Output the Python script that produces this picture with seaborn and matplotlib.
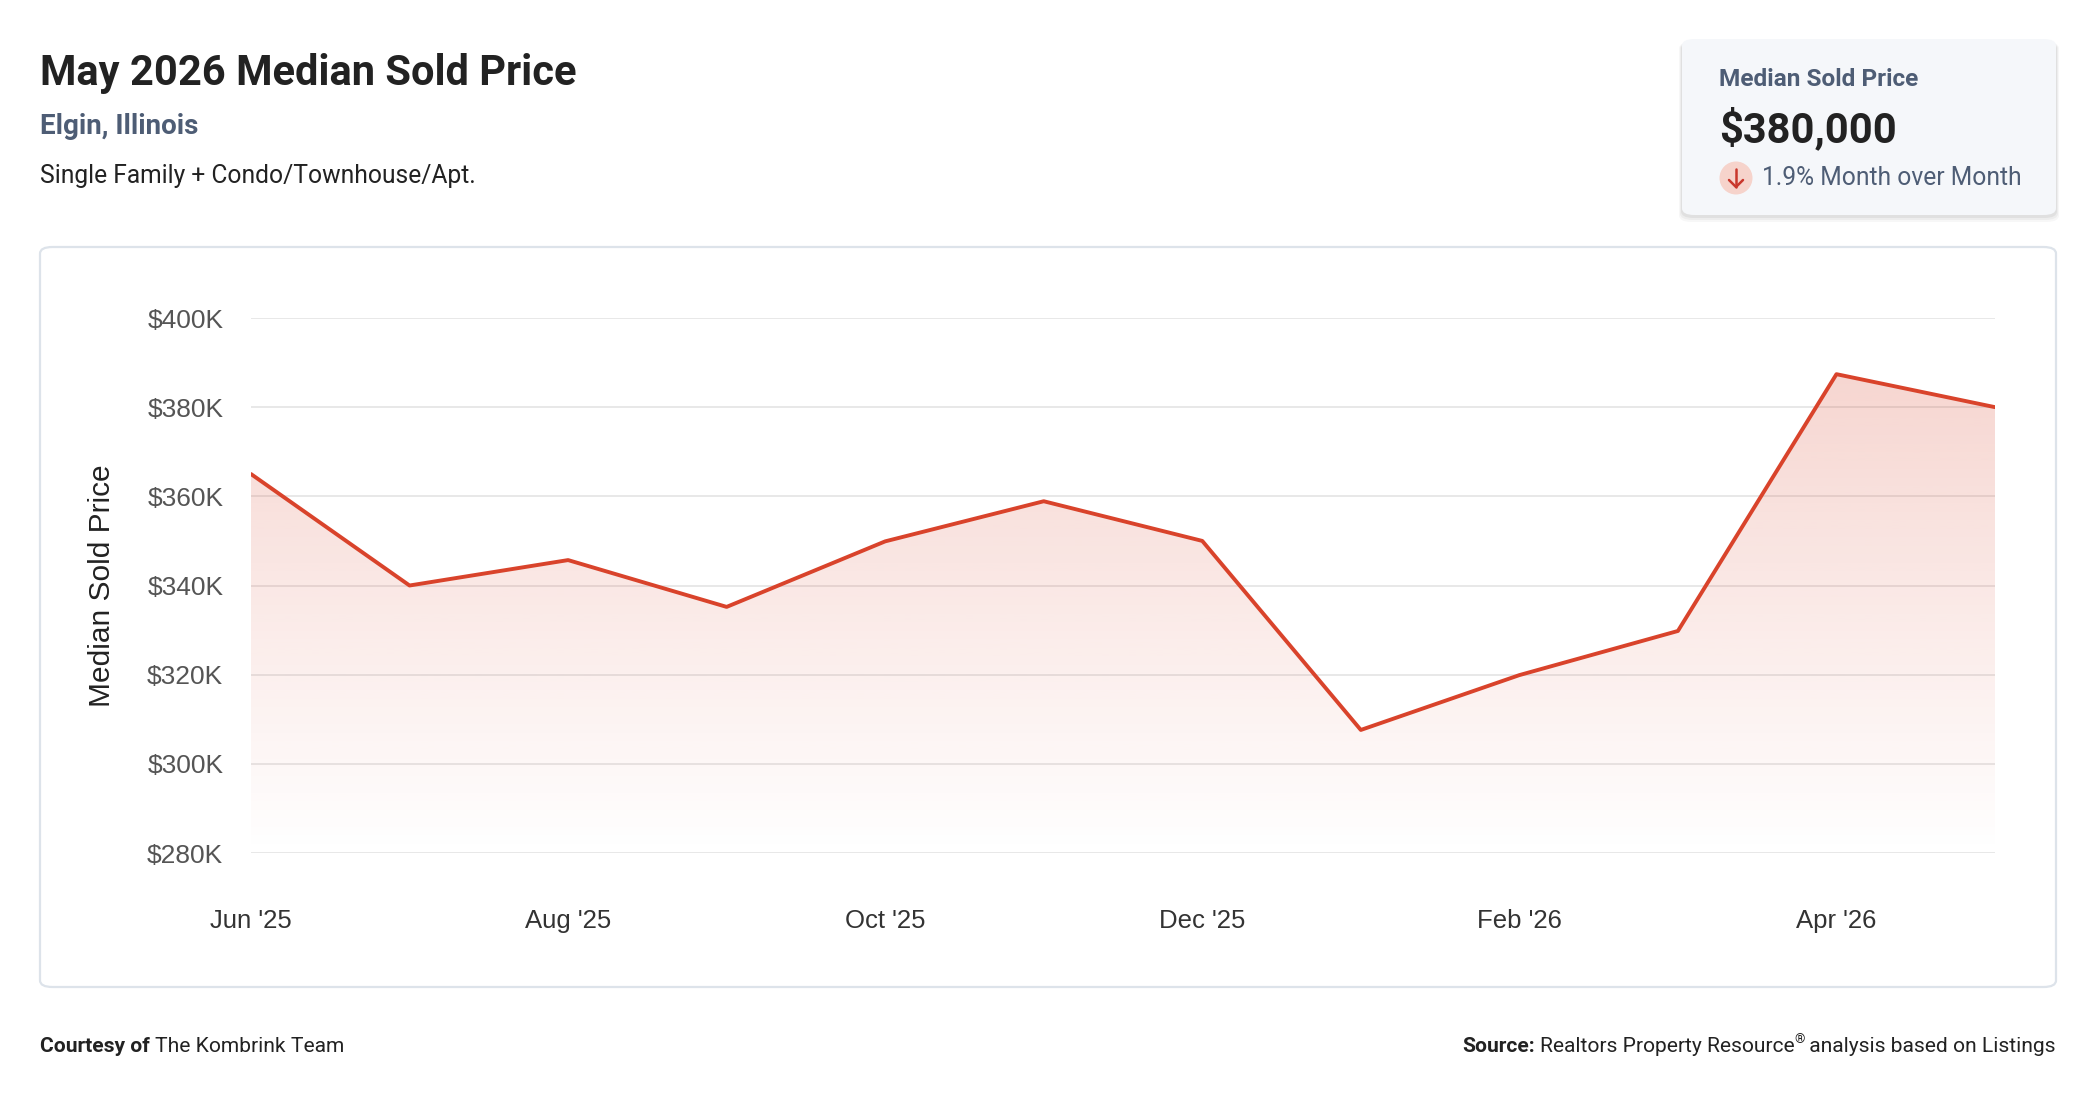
import numpy as np
import pandas as pd
import matplotlib
matplotlib.use("Agg")
import matplotlib.pyplot as plt
from matplotlib.patches import FancyBboxPatch, Circle
from matplotlib.lines import Line2D
from matplotlib.ticker import FuncFormatter
import seaborn as sns

# data
months = ["Jun '25", "Jul '25", "Aug '25", "Sep '25", "Oct '25", "Nov '25",
          "Dec '25", "Jan '26", "Feb '26", "Mar '26", "Apr '26", "May '26"]
prices = [365000, 340000, 345700, 335200, 349900, 358900,
          350000, 307600, 319900, 329800, 387400, 380000]
y_ticks = [280000, 300000, 320000, 340000, 360000, 380000, 400000]

title = "May 2026 Median Sold Price"
place = "Elgin, Illinois"
segment = "Single Family + Condo/Townhouse/Apt."
card_label = "Median Sold Price"
card_value = "$380,000"
card_change = "1.9% Month over Month"

RED = "#d9432b"
SLATE = "#4e5d75"
DARK = "#222222"

sns.set_theme(style="white")
plt.rcParams['font.family'] = ['Roboto', 'DejaVu Sans']

df = pd.DataFrame({"idx": np.arange(len(months)), "month": months, "price": prices})

W, H, DPI = 2096, 1100, 100
fig = plt.figure(figsize=(W / DPI, H / DPI), dpi=DPI)
fig.patch.set_facecolor("white")


def fx(px):
    return px / W


def fy(py):
    return 1 - py / H


# chart frame
frame = FancyBboxPatch((fx(40), fy(987)), fx(2056) - fx(40), fy(247) - fy(987),
                       boxstyle="round,pad=0,rounding_size=0.006",
                       transform=fig.transFigure, facecolor="white",
                       edgecolor="#dde3ea", linewidth=1.6, zorder=0)
fig.add_artist(frame)

ax = fig.add_axes([fx(251), fy(853), fx(1995) - fx(251), fy(318) - fy(853)])
ax.set_facecolor("none")

sns.lineplot(data=df, x="idx", y="price", color=RED, linewidth=2.8, ax=ax, zorder=4)

# gradient fill under the line
poly = ax.fill_between(df["idx"], df["price"], y_ticks[0], facecolor="none", edgecolor="none")
top = max(prices)
grad = np.zeros((256, 1, 4))
rgb = matplotlib.colors.to_rgb(RED)
grad[:, 0, 0:3] = rgb
grad[:, 0, 3] = np.linspace(0.22, 0.0, 256)
im = ax.imshow(grad, aspect="auto", extent=(0, len(months) - 1, y_ticks[0], top),
               origin="upper", zorder=2, interpolation="bilinear")
im.set_clip_path(poly.get_paths()[0], ax.transData)

ax.set_xlim(0, len(months) - 1)
ax.set_ylim(y_ticks[0], y_ticks[-1])
ax.set_yticks(y_ticks)
ax.yaxis.set_major_formatter(FuncFormatter(lambda v, p: f"${v/1000:.0f}K"))
ax.set_xticks(df["idx"][::2])
ax.set_xticklabels(months[::2])
ax.grid(axis="y", color="#e4e4e4", linewidth=1.2, zorder=1)
ax.grid(axis="x", visible=False)
for s in ax.spines.values():
    s.set_visible(False)
ax.tick_params(axis="y", length=0, pad=20, labelsize=19, labelcolor="#555555")
ax.tick_params(axis="x", length=0, pad=40, labelsize=18.5, labelcolor="#333333")
for lab in ax.get_xticklabels() + ax.get_yticklabels():
    lab.set_family(["Liberation Sans", "DejaVu Sans"])
ax.set_xlabel("")
ax.set_ylabel("Median Sold Price", fontsize=21.5, color=DARK,
              family=["Liberation Sans", "DejaVu Sans"])
ax.yaxis.label.set_va("center")
ax.yaxis.set_label_coords((102 - 251) / (1995 - 251), 0.5)

# header
fig.text(fx(40), fy(74), title, fontsize=30, fontweight="bold", color=DARK, va="center")
fig.text(fx(40), fy(127), place, fontsize=20, fontweight="bold", color=SLATE, va="center")
fig.text(fx(40), fy(176), segment, fontsize=17.7, color=DARK, va="center")

# KPI card with soft shadow
for i, a in enumerate([0.05, 0.04, 0.03]):
    sh = FancyBboxPatch((fx(1682 - 1 - i), fy(215 + 3 + 2 * i)),
                        fx(374 + 2 + 2 * i), fy(39) - fy(215 + 2 * i),
                        boxstyle="round,pad=0,rounding_size=0.006",
                        transform=fig.transFigure, facecolor="black", alpha=a,
                        edgecolor="none", zorder=0)
    fig.add_artist(sh)
card = FancyBboxPatch((fx(1682), fy(215)), fx(374), fy(39) - fy(215),
                      boxstyle="round,pad=0,rounding_size=0.006",
                      transform=fig.transFigure, facecolor="#f5f7fa",
                      edgecolor="none", zorder=1)
fig.add_artist(card)
fig.text(fx(1719), fy(80), card_label, fontsize=17.6, fontweight="bold", color=SLATE, va="center", zorder=3)
fig.text(fx(1719), fy(129), card_value, fontsize=30, fontweight="bold", color=DARK, va="center", zorder=3)
fig.text(fx(1762), fy(178), card_change, fontsize=17.7, color=SLATE, va="center", zorder=3)

# down arrow icon
cx, cy, r = 1736 / DPI, (H - 178) / DPI, 0.165
fig.add_artist(Circle((cx, cy), r, transform=fig.dpi_scale_trans,
                      facecolor="#f6d3cb", edgecolor="none", zorder=2))
arrow_kw = dict(transform=fig.dpi_scale_trans, color="#c9372c", linewidth=1.8,
                solid_capstyle="round", zorder=3)
fig.add_artist(Line2D([cx, cx], [cy + 0.09, cy - 0.09], **arrow_kw))
fig.add_artist(Line2D([cx - 0.07, cx, cx + 0.07], [cy - 0.02, cy - 0.09, cy - 0.02], **arrow_kw))

# footer
fig.canvas.draw()
rend = fig.canvas.get_renderer()
foot_y = fy(1046)
fs = 15.1
t1 = fig.text(fx(40), foot_y, "Courtesy of", fontsize=fs, fontweight="bold", color=DARK, va="center")
bb = t1.get_window_extent(rend)
fig.text(fx(bb.x1 + 5), foot_y, "The Kombrink Team", fontsize=fs, color=DARK, va="center")

t3 = fig.text(fx(2056), foot_y, " analysis based on Listings", fontsize=fs, color=DARK,
              va="center", ha="right")
x_right = t3.get_window_extent(rend).x0
t_reg = fig.text(fx(x_right), foot_y + 6 / H, "®", fontsize=9.5, color=DARK, va="center", ha="right")
x_right = t_reg.get_window_extent(rend).x0
t2 = fig.text(fx(x_right), foot_y, "Realtors Property Resource", fontsize=fs, color=DARK,
              va="center", ha="right")
x_right = t2.get_window_extent(rend).x0
fig.text(fx(x_right - 5), foot_y, "Source:", fontsize=fs, fontweight="bold", color=DARK,
         va="center", ha="right")

fig.savefig("out.png", dpi=DPI, facecolor="white")
